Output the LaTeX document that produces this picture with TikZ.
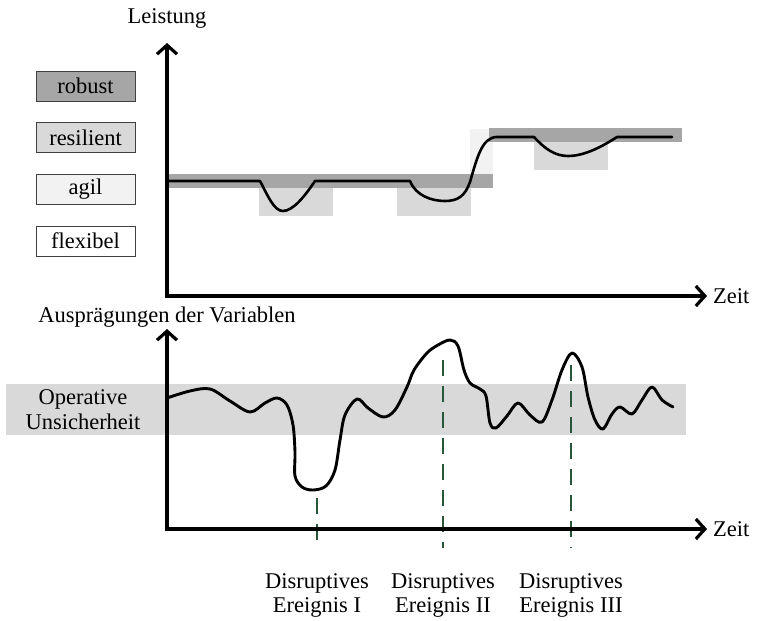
\documentclass[tikz,border=0pt]{standalone}
\usepackage{fontspec}
\setmainfont{Liberation Serif}
\usetikzlibrary{arrows.meta}
\definecolor{robustgray}{HTML}{A6A6A6}
\definecolor{resilgray}{HTML}{D9D9D9}
\definecolor{agilgray}{HTML}{F2F2F2}
\definecolor{eventgreen}{RGB}{40,86,58}
\tikzset{
  lbl/.style={font=\fontsize{22.5}{24}\selectfont, inner sep=0pt},
  legendbox/.style={draw=black!75, line width=0.9pt, minimum width=99pt, minimum height=30pt,
                    font=\fontsize{22.5}{24}\selectfont, inner sep=0pt},
  axis/.style={line width=3.2pt, -{Straight Barb[length=9pt,width=20pt]}},
  curve/.style={line width=2.6pt, line join=round, line cap=round},
  eventline/.style={eventgreen, line width=2pt, dash pattern=on 16pt off 10pt},
}
\begin{document}
\begin{tikzpicture}[x=1pt,y=-1pt]
\path[use as bounding box] (0,0) rectangle (764,621);

% ---------- upper chart: performance ----------
\coordinate (o1) at (167,296);
\coordinate (y1) at (167,43);
\coordinate (x1) at (707,296);

% bands
\fill[robustgray] (168,174) rectangle (493,188);
\fill[agilgray] (470,129) rectangle (493,174);
\fill[robustgray] (489,128) rectangle (682,142);
\fill[resilgray] (259,188) rectangle (333,216);
\fill[resilgray] (397,188) rectangle (471,216);
\fill[resilgray] (534,142) rectangle (608,170);

% performance curve
\draw[curve] (168,181) -- (260,181)
  .. controls (268,196) and (274,211) .. (283,211)
  .. controls (293,211) and (305,196) .. (315,181)
  -- (410,181)
  .. controls (416,196) and (432,201) .. (445,201)
  .. controls (458,201) and (465,196) .. (470,182)
  .. controls (477,158) and (482,137) .. (497,137)
  -- (534,137)
  .. controls (545,149) and (555,156) .. (568,156)
  .. controls (585,156) and (603,146) .. (617,137)
  -- (672,137);

% legend
\node[legendbox, fill=robustgray] (robust) at (85.5,86) {robust};
\node[legendbox, fill=resilgray] (resil) at (85.5,137.5) {resilient};
\node[legendbox, fill=agilgray] (agil) at (85.5,189) {agil};
\node[legendbox, fill=white] (flex) at (85.5,241) {flexibel};

% axes
\draw[axis] ([yshift=-1.6pt]o1) -- (y1);
\draw[axis] ([xshift=-1.6pt]o1) -- (x1);
\node[lbl] (leistung) at (167,18) {Leistung};
\node[lbl, anchor=west] (zeit1) at (713,296) {Zeit};

% ---------- lower chart: variables ----------
\coordinate (o2) at (167,529);
\coordinate (y2) at (167,329);
\coordinate (x2) at (707,529);

\fill[resilgray] (6,384) rectangle (686,435);
\node[lbl, align=center] (unsich) at (83,410) {Operative\\[1pt]Unsicherheit};

\draw[curve, line width=2.9pt] plot[smooth, tension=0.55] coordinates {
  (167,398) (190,391) (210,389) (230,401) (250,412) (265,403) (277,398)
  (287,405) (293,425) (295,452) (295,476) (302,487) (313,490) (326,486)
  (335,470) (340,440) (345,415) (357,399) (368,408) (383,417) (395,410)
  (407,387) (414,370) (427,353) (438,345) (450,340) (458,346) (464,370)
  (470,383) (480,389) (486,396) (490,423) (496,428) (507,416) (518,403)
  (530,415) (542,422) (552,400) (562,370) (572,353) (582,367) (588,397)
  (595,420) (603,429) (612,414) (620,407) (632,414) (642,400) (652,387)
  (662,400) (673,407)};

% disruptive events
\coordinate (e1top) at (317,498);
\coordinate (e1bot) at (317,546);
\coordinate (e2top) at (443,360);
\coordinate (e2bot) at (443,548);
\coordinate (e3top) at (571,365);
\coordinate (e3bot) at (571,548);
\draw[eventline] (e1top) -- (e1bot);
\draw[eventline] (e2top) -- (e2bot);
\draw[eventline] (e3top) -- (e3bot);

\draw[axis] ([yshift=-1.6pt]o2) -- (y2);
\draw[axis] ([xshift=-1.6pt]o2) -- (x2);
\node[lbl] (auspr) at (167,317) {Ausprägungen der Variablen};
\node[lbl, anchor=west] (zeit2) at (713,529) {Zeit};

\node[lbl, align=center] (ev1) at (317,595) {Disruptives\\[0pt]Ereignis I};
\node[lbl, align=center] (ev2) at (443,595) {Disruptives\\[0pt]Ereignis II};
\node[lbl, align=center] (ev3) at (571,595) {Disruptives\\[0pt]Ereignis III};
\end{tikzpicture}
\end{document}
